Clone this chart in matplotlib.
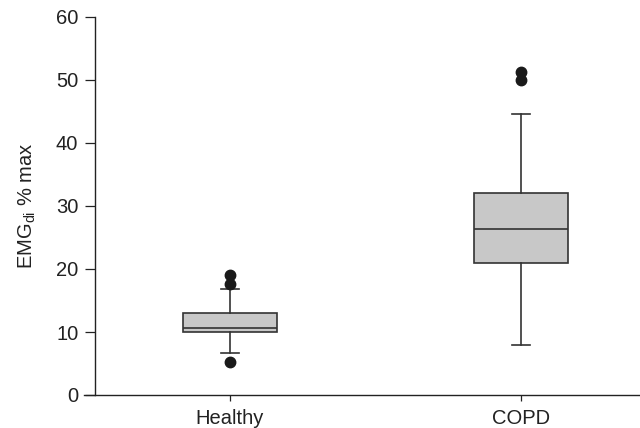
import matplotlib
matplotlib.use('Agg')
import matplotlib.pyplot as plt

# datos
groups = ['Healthy', 'COPD']
q1 = [10.05, 21.0]
med = [10.7, 26.4]
q3 = [12.97, 32.1]
whislo = [6.7, 7.9]
whishi = [16.8, 44.6]
fliers = [[19.05, 17.6, 5.2], [51.2, 50.0]]

plt.rcParams['font.family'] = ['Liberation Sans', 'DejaVu Sans']
plt.rcParams['mathtext.fontset'] = 'custom'
plt.rcParams['mathtext.rm'] = 'Liberation Sans'

fig = plt.figure(figsize=(6.4, 4.28), dpi=100)
ax = fig.add_axes([84 / 640, 33 / 428, 1 - 84 / 640, (395 - 17) / 428])

stats = []
for i, g in enumerate(groups):
    stats.append({'label': g, 'q1': q1[i], 'med': med[i], 'q3': q3[i],
                  'whislo': whislo[i], 'whishi': whishi[i], 'fliers': fliers[i]})

pos = [1, 2]
ax.bxp(stats, positions=pos, widths=0.32, capwidths=0.062, patch_artist=True,
       boxprops=dict(facecolor='#c8c8c8', edgecolor='#333333', linewidth=1.2),
       medianprops=dict(color='#333333', linewidth=1.2),
       whiskerprops=dict(color='#333333', linewidth=1.2),
       capprops=dict(color='#333333', linewidth=1.2),
       flierprops=dict(marker='o', markerfacecolor='#1a1a1a', markeredgecolor='#1a1a1a',
                       markersize=7.5))

ax.set_xlim(1 - (230 - 84) / 291, 2 + (640 - 521) / 291)
ax.set_ylim(0, 60)
ax.set_yticks(range(0, 61, 10))
ax.set_xticks(pos)
ax.set_xticklabels(groups)

ax.spines['top'].set_visible(False)
ax.spines['right'].set_visible(False)
ax.spines['left'].set_position(('data', 1 - (230 - 95) / 291))
for s in ['left', 'bottom']:
    ax.spines[s].set_color('#222222')
    ax.spines[s].set_linewidth(1.0)

ax.tick_params(axis='y', direction='out', length=7, width=0.9, labelsize=14.5, colors='#222222', pad=5)
ax.tick_params(axis='x', direction='out', length=4, width=0.9, labelsize=14.5, colors='#222222', pad=6)

ax.set_ylabel(r'EMG$_{\mathrm{di}}$ % max', fontsize=14.5, color='#222222', labelpad=13)

fig.savefig('out.png', dpi=100)
